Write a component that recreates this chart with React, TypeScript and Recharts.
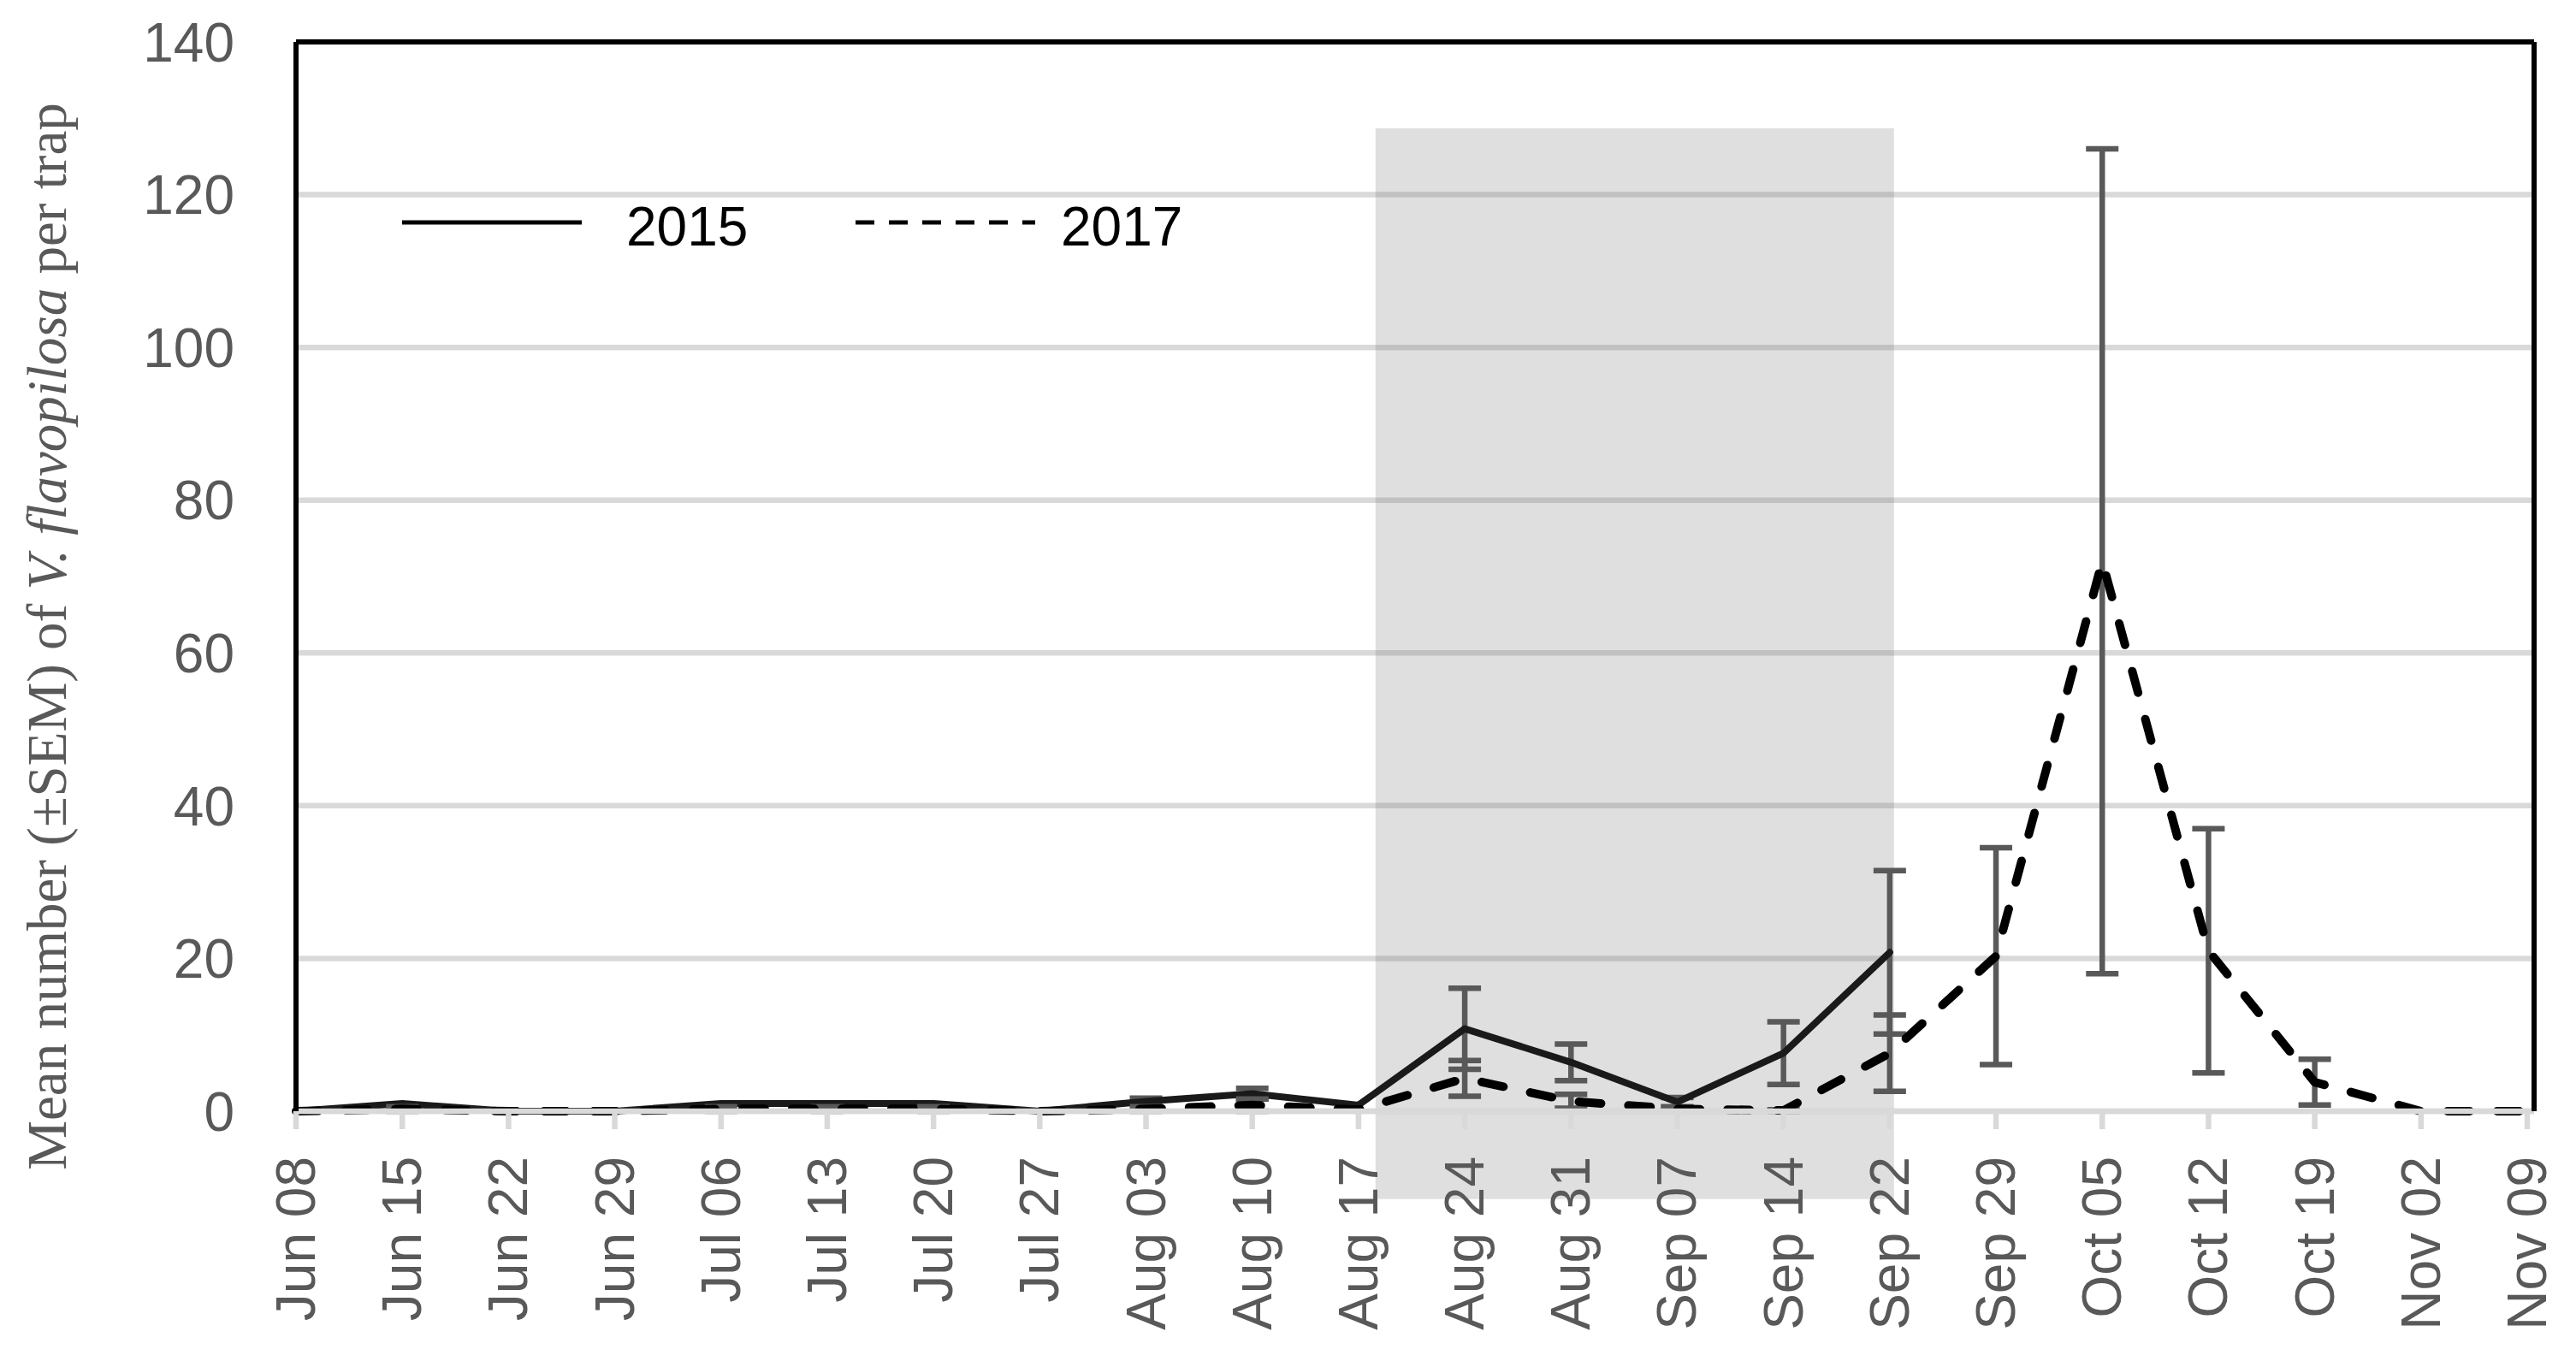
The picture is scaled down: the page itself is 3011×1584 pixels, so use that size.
import React from "react"
import {
  LineChart,
  Line,
  XAxis,
  YAxis,
  CartesianGrid,
  ErrorBar,
  ReferenceArea,
  ReferenceLine,
} from "recharts"

const weeks = [
  "Jun 08", "Jun 15", "Jun 22", "Jun 29", "Jul 06", "Jul 13", "Jul 20", "Jul 27",
  "Aug 03", "Aug 10", "Aug 17", "Aug 24", "Aug 31", "Sep 07", "Sep 14", "Sep 22",
  "Sep 29", "Oct 05", "Oct 12", "Oct 19", "Nov 02", "Nov 09",
]

// mean catches per trap, 2015 stops after Sep 22
const mean2015 = [0, 1.0, 0, 0, 1.0, 1.0, 1.0, 0, 1.3, 2.3, 0.8, 10.8, 6.4, 1.2, 7.6, 20.8, null, null, null, null, null, null]
const sem2015 = [null, null, null, null, null, null, null, null, 0.4, 0.7, null, 5.3, 2.4, 0.6, 4.1, 10.7, null, null, null, null, null, null]

const mean2017 = [0, 0.3, 0, 0, 0.3, 0.3, 0.3, 0, 0.3, 0.8, 0.2, 4.3, 1.3, 0.3, 0.1, 7.6, 20.3, 72, 21, 3.8, 0, 0]
const sem2017 = [null, 0.3, null, null, 0.3, 0.3, 0.3, null, 0.3, 0.8, null, 2.35, 0.9, 0.2, 0.1, 5.0, 14.2, 54, 16, 3.0, null, null]

const yTicks = [0, 20, 40, 60, 80, 100, 120, 140]

// shaded period (week index / y units)
const shadeStart = 10.16
const shadeEnd = 15.04
const shadeLow = -11.5
const shadeHigh = 128.7

const series = [
  { key: "m15", err: "e15", name: "2015", color: "#1a1a1a", width: 8, dash: undefined, legendDash: undefined, legendText: 262 },
  { key: "m17", err: "e17", name: "2017", color: "#000000", width: 10, dash: "26 32", legendDash: "22 17", legendText: 240 },
]

const data = weeks.map((week, i) => ({
  week,
  idx: i,
  m15: mean2015[i],
  e15: sem2015[i],
  m17: mean2017[i],
  e17: sem2017[i],
}))

const W = 3011
const H = 1584
const SANS = "'Liberation Sans', Arial, sans-serif"
const SERIF = "'Liberation Serif', 'Times New Roman', serif"
const xPad = { left: 0, right: 8 }

const XTick = ({ x, y, payload }: any) => (
  <text
    x={x}
    y={y}
    transform={`rotate(-90 ${x} ${y})`}
    textAnchor="end"
    dominantBaseline="central"
    fill="#595959"
    fontSize={64}
    fontFamily={SANS}
  >
    {payload.value}
  </text>
)

const YTitle = ({ viewBox }: any) => {
  const cx = viewBox.x + 77
  const cy = viewBox.y + viewBox.height / 2 + 70
  return (
    <text
      x={cx}
      y={cy}
      transform={`rotate(-90 ${cx} ${cy})`}
      textAnchor="middle"
      fill="#595959"
      fontSize={65}
      fontFamily={SERIF}
    >
      Mean number (±SEM) of <tspan fontStyle="italic">V. flavopilosa</tspan> per trap
    </text>
  )
}

export default function App() {
  return (
    <div style={{ position: "relative", width: W, height: H }}>
      <style>{`body{margin:0}`}</style>
      <LineChart width={W} height={H} data={data} margin={{ top: 49, right: 0, left: 0, bottom: 0 }}>
        <CartesianGrid vertical={false} stroke="#d9d9d9" strokeWidth={6.5} />
        <XAxis
          dataKey="week"
          interval={0}
          height={285}
          padding={xPad}
          axisLine={{ stroke: "#d9d9d9", strokeWidth: 6.5 }}
          tickLine={{ stroke: "#d9d9d9", strokeWidth: 6.5 }}
          tickSize={21}
          tickMargin={32}
          tick={<XTick />}
        />
        <XAxis xAxisId="idx" dataKey="idx" type="number" domain={[0, weeks.length - 1]} padding={xPad} hide />
        <YAxis
          domain={[0, 140]}
          ticks={yTicks}
          width={346}
          axisLine={{ stroke: "#000", strokeWidth: 6 }}
          tickLine={false}
          tickSize={0}
          tickMargin={72}
          tick={{ fill: "#595959", fontSize: 64, fontFamily: SANS }}
          label={{ content: <YTitle /> }}
        />
        <YAxis
          yAxisId="right"
          orientation="right"
          domain={[0, 140]}
          width={49}
          axisLine={{ stroke: "#000", strokeWidth: 6 }}
          tickLine={false}
          tick={false}
        />
        <ReferenceArea
          xAxisId="idx"
          x1={shadeStart}
          x2={shadeEnd}
          y1={shadeLow}
          y2={shadeHigh}
          ifOverflow="visible"
          fill="rgb(103,103,103)"
          fillOpacity={0.21}
          stroke="none"
        />
        <ReferenceLine y={140} stroke="#000" strokeWidth={6} />
        {series.map((s) => (
          <Line
            key={s.key}
            dataKey={s.key}
            name={s.name}
            type="linear"
            stroke={s.color}
            strokeWidth={s.width}
            strokeDasharray={s.dash}
            strokeLinecap="round"
            strokeLinejoin="round"
            dot={false}
            activeDot={false}
            isAnimationActive={false}
          >
            <ErrorBar dataKey={s.err} direction="y" width={19} stroke="#595959" strokeWidth={6.5} />
          </Line>
        ))}
      </LineChart>
      <svg width={1500} height={330} style={{ position: "absolute", left: 0, top: 0, pointerEvents: "none" }}>
        {series.map((s, i) => {
          const x0 = 470 + i * 530
          return (
            <g key={s.name}>
              <line x1={x0} y1={260} x2={x0 + 210} y2={260} stroke="#000" strokeWidth={5} strokeDasharray={s.legendDash} />
              <text x={x0 + s.legendText} y={287} fontSize={64} fontFamily={SANS} fill="#000">
                {s.name}
              </text>
            </g>
          )
        })}
      </svg>
    </div>
  )
}
